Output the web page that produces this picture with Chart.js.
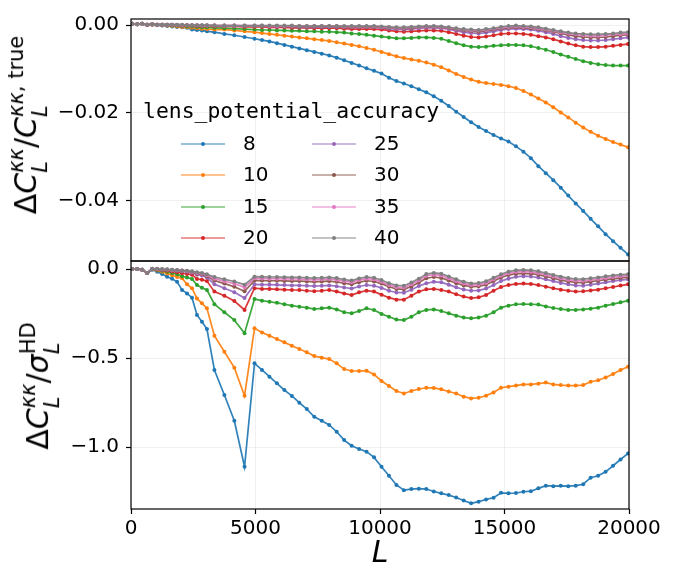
<!DOCTYPE html>
<html>
<head>
<meta charset="utf-8">
<script src="https://cdn.jsdelivr.net/npm/chart.js@4.4.1/dist/chart.umd.min.js"></script>
<style>
  html, body { margin: 0; padding: 0; background: #fff; }
  #wrap { position: relative; width: 680px; height: 572px; overflow: hidden; font-family: "DejaVu Sans"; color: #000; }
  #wrap canvas { position: absolute; left: 0; top: 0; }
  .ylab { position: absolute; white-space: nowrap; font-size: 30px; line-height: 1; transform: translate(-50%, -50%) rotate(-90deg); }
  .ss { display: inline-block; font-size: 0.7em; line-height: 1.14; vertical-align: -0.514em; text-align: left; }
  .ss > span { display: block; }
  .it { font-style: italic; }
  .lg { position: absolute; white-space: nowrap; line-height: 1; transform: translateY(-50%); }
</style>
</head>
<body>
<div id="wrap">
  <canvas id="top" width="680" height="572"></canvas>
  <canvas id="bottom" width="680" height="572"></canvas>
  <div class="ylab" style="left:29px; top:125px;">Δ<span class="it">C</span><span class="ss"><span class="it">κκ</span><span class="it">L</span></span>/<span class="it">C</span><span class="ss"><span><span class="it">κκ</span>, true</span><span class="it">L</span></span></div>
  <div class="ylab" style="left:41px; top:386px;">Δ<span class="it">C</span><span class="ss"><span class="it">κκ</span><span class="it">L</span></span>/<span class="it">σ</span><span class="ss"><span>HD</span><span class="it">L</span></span></div>
  <div id="legend"></div>
</div>
<script>
// multipole bins
const ells = [
  50, 250, 450, 650, 850, 1050, 1250, 1450, 1650, 1850,
  2050, 2250, 2450, 2650, 2850, 3050, 3350, 3750, 4150, 4560,
  4960, 5260, 5560, 5860, 6160, 6460, 6760, 7060, 7360, 7660,
  7960, 8260, 8560, 8860, 9160, 9460, 9760, 10060, 10360, 10660,
  10960, 11260, 11560, 11860, 12160, 12460, 12760, 13060, 13360, 13660,
  13960, 14260, 14560, 14860, 15160, 15460, 15760, 16060, 16360, 16660,
  16960, 17260, 17560, 17860, 18160, 18460, 18760, 19060, 19360, 19660,
  19960
];

const accuracy = ['8', '10', '15', '20', '25', '30', '35', '40'];
const colors = ['#1f77b4', '#ff7f0e', '#2ca02c', '#d62728', '#9467bd', '#8c564b', '#e377c2', '#7f7f7f'];

// fractional bias  dC/C_true
const frac8 = [
  0.0003, 0.0002, 0.0003, 0.0001, 0.0001, 0.0, -0.0001, -0.0002, -0.0003, -0.0004,
  -0.0005, -0.0006, -0.0010, -0.0011, -0.0012, -0.0014, -0.0016, -0.0020, -0.0023, -0.0027,
  -0.0031, -0.0034, -0.0037, -0.0041, -0.0045, -0.0049, -0.0053, -0.0057, -0.0061, -0.0065,
  -0.0069, -0.0074, -0.0080, -0.0086, -0.0092, -0.0098, -0.0104, -0.0110, -0.0120, -0.0127,
  -0.0133, -0.0139, -0.0146, -0.0153, -0.0162, -0.0172, -0.0184, -0.0197, -0.0209, -0.0221,
  -0.0232, -0.0241, -0.0250, -0.0258, -0.0265, -0.0276, -0.0288, -0.0303, -0.0321, -0.0337,
  -0.0353, -0.0370, -0.0388, -0.0406, -0.0423, -0.0441, -0.0458, -0.0476, -0.0492, -0.0507,
  -0.0522
];
const frac10 = [
  0.0003, 0.0002, 0.0003, 0.0001, 0.0001, 0.0001, 0.0, -0.0001, -0.0002, -0.0003,
  -0.0004, -0.0005, -0.0006, -0.0007, -0.0008, -0.0009, -0.0010, -0.0010, -0.0012, -0.0014,
  -0.0016, -0.0018, -0.0020, -0.0022, -0.0024, -0.0026, -0.0028, -0.0030, -0.0032, -0.0034,
  -0.0036, -0.0039, -0.0042, -0.0045, -0.0048, -0.0052, -0.0056, -0.0061, -0.0066, -0.0071,
  -0.0075, -0.0078, -0.0081, -0.0085, -0.0090, -0.0096, -0.0103, -0.0111, -0.0118, -0.0124,
  -0.0129, -0.0132, -0.0134, -0.0136, -0.0139, -0.0143, -0.0150, -0.0158, -0.0167, -0.0176,
  -0.0187, -0.0199, -0.0210, -0.0222, -0.0233, -0.0243, -0.0252, -0.0259, -0.0266, -0.0272,
  -0.0278
];
const frac15 = [
  0.0003, 0.0002, 0.0003, 0.0001, 0.0002, 0.0001, 0.0001, 0.0, -0.0001, -0.0001,
  -0.0002, -0.0003, -0.0003, -0.0004, -0.0005, -0.0005, -0.0006, -0.0007, -0.0008, -0.0009,
  -0.0010, -0.0011, -0.0011, -0.0012, -0.0012, -0.0013, -0.0013, -0.0014, -0.0014, -0.0015,
  -0.0015, -0.0016, -0.0017, -0.0019, -0.0020, -0.0022, -0.0024, -0.0026, -0.0028, -0.0030,
  -0.0030, -0.0029, -0.0028, -0.0028, -0.0029, -0.0031, -0.0036, -0.0041, -0.0046, -0.0049,
  -0.0050, -0.0049, -0.0047, -0.0046, -0.0045, -0.0045, -0.0046, -0.0048, -0.0052, -0.0056,
  -0.0061, -0.0067, -0.0072, -0.0077, -0.0082, -0.0086, -0.0089, -0.0091, -0.0092, -0.0092,
  -0.0092
];
const frac20 = [
  0.0003, 0.0002, 0.0003, 0.0001, 0.0002, 0.0001, 0.0001, 0.0001, 0.0, 0.0,
  -0.0001, -0.0001, -0.0001, -0.0002, -0.0002, -0.0002, -0.0003, -0.0003, -0.0003, -0.0004,
  -0.0004, -0.0004, -0.0005, -0.0005, -0.0005, -0.0006, -0.0006, -0.0006, -0.0007, -0.0007,
  -0.0007, -0.0007, -0.0008, -0.0009, -0.0009, -0.0009, -0.0009, -0.0010, -0.0012, -0.0014,
  -0.0015, -0.0014, -0.0013, -0.0012, -0.0012, -0.0013, -0.0016, -0.0020, -0.0024, -0.0027,
  -0.0028, -0.0026, -0.0023, -0.0020, -0.0019, -0.0019, -0.0020, -0.0022, -0.0025, -0.0028,
  -0.0032, -0.0037, -0.0042, -0.0046, -0.0049, -0.0050, -0.0050, -0.0049, -0.0047, -0.0045,
  -0.0043
];
const frac25 = [
  0.0003, 0.0002, 0.0003, 0.0001, 0.0002, 0.0001, 0.0001, 0.0001, 0.0001, 0.0,
  0.0, 0.0, -0.0001, -0.0001, -0.0001, -0.0001, -0.0001, -0.0002, -0.0002, -0.0002,
  -0.0002, -0.0002, -0.0003, -0.0003, -0.0003, -0.0003, -0.0004, -0.0004, -0.0004, -0.0004,
  -0.0004, -0.0004, -0.0005, -0.0005, -0.0005, -0.0005, -0.0005, -0.0006, -0.0008, -0.0009,
  -0.0010, -0.0009, -0.0007, -0.0006, -0.0006, -0.0007, -0.0009, -0.0013, -0.0016, -0.0018,
  -0.0019, -0.0017, -0.0014, -0.0011, -0.0009, -0.0008, -0.0009, -0.0010, -0.0013, -0.0016,
  -0.0020, -0.0025, -0.0029, -0.0032, -0.0034, -0.0035, -0.0035, -0.0034, -0.0032, -0.0030,
  -0.0028
];
const frac30 = [
  0.0003, 0.0002, 0.0003, 0.0001, 0.0002, 0.0001, 0.0001, 0.0001, 0.0001, 0.0,
  0.0, 0.0, 0.0, -0.0001, -0.0001, -0.0001, -0.0001, -0.0001, -0.0001, -0.0002,
  -0.0002, -0.0002, -0.0002, -0.0002, -0.0003, -0.0003, -0.0003, -0.0003, -0.0003, -0.0003,
  -0.0003, -0.0003, -0.0004, -0.0004, -0.0004, -0.0004, -0.0004, -0.0005, -0.0006, -0.0007,
  -0.0008, -0.0007, -0.0005, -0.0004, -0.0004, -0.0005, -0.0007, -0.0010, -0.0012, -0.0014,
  -0.0015, -0.0013, -0.0010, -0.0008, -0.0006, -0.0005, -0.0006, -0.0007, -0.0009, -0.0012,
  -0.0015, -0.0019, -0.0022, -0.0025, -0.0027, -0.0028, -0.0028, -0.0027, -0.0025, -0.0023,
  -0.0022
];
const frac35 = [
  0.0003, 0.0002, 0.0003, 0.0001, 0.0002, 0.0001, 0.0001, 0.0001, 0.0001, 0.0001,
  0.0, 0.0, 0.0, 0.0, -0.0001, -0.0001, -0.0001, -0.0001, -0.0001, -0.0001,
  -0.0001, -0.0001, -0.0002, -0.0002, -0.0002, -0.0002, -0.0002, -0.0002, -0.0002, -0.0002,
  -0.0002, -0.0002, -0.0003, -0.0003, -0.0003, -0.0003, -0.0003, -0.0004, -0.0005, -0.0006,
  -0.0006, -0.0005, -0.0004, -0.0003, -0.0003, -0.0004, -0.0006, -0.0008, -0.0010, -0.0012,
  -0.0012, -0.0011, -0.0008, -0.0006, -0.0004, -0.0003, -0.0004, -0.0005, -0.0007, -0.0010,
  -0.0013, -0.0016, -0.0019, -0.0021, -0.0023, -0.0024, -0.0024, -0.0023, -0.0021, -0.0020,
  -0.0019
];
const frac40 = [
  0.0003, 0.0002, 0.0003, 0.0001, 0.0002, 0.0001, 0.0001, 0.0001, 0.0001, 0.0001,
  0.0001, 0.0, 0.0, 0.0, 0.0, 0.0, -0.0001, -0.0001, -0.0001, -0.0001,
  -0.0001, -0.0001, -0.0001, -0.0001, -0.0001, -0.0001, -0.0002, -0.0002, -0.0002, -0.0002,
  -0.0002, -0.0002, -0.0002, -0.0002, -0.0002, -0.0002, -0.0002, -0.0003, -0.0004, -0.0005,
  -0.0005, -0.0004, -0.0003, -0.0002, -0.0002, -0.0003, -0.0005, -0.0007, -0.0009, -0.0010,
  -0.0011, -0.0009, -0.0007, -0.0004, -0.0002, -0.0001, -0.0002, -0.0003, -0.0005, -0.0008,
  -0.0011, -0.0014, -0.0017, -0.0019, -0.0020, -0.0021, -0.0021, -0.0020, -0.0019, -0.0017,
  -0.0016
];

// bias in units of the HD error bar
const sig8 = [
  0.0, 0.0, -0.004, -0.022, -0.004, -0.015, -0.028, -0.043, -0.055, -0.072,
  -0.118, -0.137, -0.161, -0.258, -0.296, -0.337, -0.567, -0.708, -0.852, -1.111,
  -0.530, -0.567, -0.605, -0.642, -0.680, -0.713, -0.751, -0.787, -0.830, -0.852,
  -0.876, -0.914, -0.961, -0.993, -1.011, -1.026, -1.058, -1.111, -1.161, -1.213,
  -1.242, -1.236, -1.234, -1.236, -1.250, -1.260, -1.270, -1.283, -1.300, -1.316,
  -1.307, -1.294, -1.285, -1.257, -1.260, -1.258, -1.251, -1.248, -1.232, -1.217,
  -1.220, -1.218, -1.220, -1.217, -1.209, -1.172, -1.161, -1.139, -1.105, -1.070,
  -1.036
];
const sig10 = [
  0.0, 0.0, -0.004, -0.022, -0.002, -0.008, -0.016, -0.025, -0.035, -0.045,
  -0.052, -0.086, -0.108, -0.165, -0.193, -0.221, -0.375, -0.465, -0.554, -0.712,
  -0.333, -0.356, -0.375, -0.393, -0.412, -0.431, -0.449, -0.468, -0.489, -0.498,
  -0.506, -0.530, -0.562, -0.573, -0.573, -0.571, -0.592, -0.629, -0.657, -0.685,
  -0.699, -0.685, -0.674, -0.667, -0.668, -0.676, -0.688, -0.699, -0.717, -0.727,
  -0.723, -0.712, -0.693, -0.667, -0.661, -0.655, -0.648, -0.648, -0.644, -0.638,
  -0.648, -0.652, -0.655, -0.655, -0.652, -0.633, -0.625, -0.609, -0.590, -0.567,
  -0.549
];
const sig15 = [
  0.0, 0.0, -0.004, -0.022, -0.001, -0.005, -0.010, -0.016, -0.022, -0.030,
  -0.040, -0.048, -0.056, -0.090, -0.105, -0.118, -0.198, -0.243, -0.287, -0.361,
  -0.169, -0.178, -0.184, -0.190, -0.198, -0.206, -0.212, -0.217, -0.225, -0.221,
  -0.217, -0.227, -0.243, -0.249, -0.236, -0.221, -0.230, -0.252, -0.268, -0.284,
  -0.287, -0.268, -0.243, -0.230, -0.227, -0.236, -0.249, -0.262, -0.273, -0.277,
  -0.273, -0.262, -0.243, -0.217, -0.206, -0.198, -0.197, -0.198, -0.200, -0.210,
  -0.219, -0.225, -0.230, -0.230, -0.227, -0.223, -0.217, -0.206, -0.197, -0.187,
  -0.178
];
const sig20 = [
  0.0, 0.0, -0.004, -0.022, 0.0, -0.003, -0.006, -0.010, -0.014, -0.018,
  -0.024, -0.028, -0.032, -0.056, -0.060, -0.068, -0.127, -0.150, -0.180, -0.230,
  -0.108, -0.112, -0.112, -0.114, -0.116, -0.118, -0.118, -0.122, -0.125, -0.122,
  -0.118, -0.127, -0.137, -0.146, -0.131, -0.122, -0.127, -0.144, -0.161, -0.172,
  -0.172, -0.150, -0.127, -0.114, -0.112, -0.118, -0.127, -0.142, -0.155, -0.163,
  -0.159, -0.146, -0.122, -0.101, -0.090, -0.084, -0.082, -0.084, -0.090, -0.099,
  -0.108, -0.116, -0.122, -0.127, -0.125, -0.120, -0.116, -0.108, -0.101, -0.093,
  -0.086
];
const sig25 = [
  0.0, 0.0, -0.004, -0.022, 0.0, -0.002, -0.004, -0.006, -0.008, -0.010,
  -0.013, -0.016, -0.021, -0.032, -0.036, -0.048, -0.085, -0.108, -0.130, -0.163,
  -0.086, -0.088, -0.088, -0.089, -0.090, -0.092, -0.092, -0.094, -0.096, -0.094,
  -0.092, -0.097, -0.104, -0.110, -0.098, -0.090, -0.094, -0.106, -0.122, -0.132,
  -0.133, -0.116, -0.096, -0.080, -0.072, -0.075, -0.088, -0.103, -0.115, -0.122,
  -0.120, -0.110, -0.090, -0.068, -0.054, -0.044, -0.040, -0.042, -0.048, -0.058,
  -0.068, -0.078, -0.086, -0.092, -0.094, -0.088, -0.082, -0.075, -0.068, -0.062,
  -0.058
];
const sig30 = [
  0.0, 0.0, -0.004, -0.022, 0.0, -0.001, -0.003, -0.005, -0.006, -0.008,
  -0.010, -0.013, -0.018, -0.026, -0.030, -0.040, -0.065, -0.082, -0.100, -0.125,
  -0.064, -0.065, -0.066, -0.066, -0.067, -0.068, -0.068, -0.070, -0.072, -0.070,
  -0.068, -0.072, -0.080, -0.086, -0.074, -0.066, -0.070, -0.082, -0.100, -0.112,
  -0.114, -0.098, -0.076, -0.052, -0.045, -0.050, -0.064, -0.080, -0.092, -0.099,
  -0.097, -0.088, -0.068, -0.048, -0.034, -0.026, -0.024, -0.026, -0.032, -0.042,
  -0.052, -0.062, -0.070, -0.075, -0.076, -0.071, -0.066, -0.060, -0.055, -0.050,
  -0.047
];
const sig35 = [
  0.0, 0.0, -0.004, -0.022, 0.001, 0.0, -0.002, -0.003, -0.005, -0.007,
  -0.009, -0.011, -0.016, -0.022, -0.026, -0.035, -0.054, -0.069, -0.083, -0.103,
  -0.052, -0.053, -0.054, -0.054, -0.055, -0.056, -0.056, -0.058, -0.060, -0.058,
  -0.056, -0.060, -0.068, -0.074, -0.062, -0.054, -0.058, -0.072, -0.090, -0.102,
  -0.104, -0.086, -0.064, -0.038, -0.032, -0.036, -0.052, -0.068, -0.082, -0.090,
  -0.088, -0.078, -0.058, -0.038, -0.024, -0.016, -0.014, -0.016, -0.022, -0.032,
  -0.042, -0.052, -0.060, -0.065, -0.066, -0.061, -0.056, -0.050, -0.045, -0.040,
  -0.037
];
const sig40 = [
  0.0, 0.0, -0.004, -0.022, 0.002, 0.001, 0.0, -0.002, -0.004, -0.006,
  -0.008, -0.010, -0.013, -0.018, -0.022, -0.030, -0.045, -0.058, -0.070, -0.088,
  -0.043, -0.044, -0.045, -0.045, -0.046, -0.047, -0.047, -0.049, -0.051, -0.049,
  -0.047, -0.051, -0.059, -0.065, -0.053, -0.045, -0.049, -0.062, -0.080, -0.092,
  -0.094, -0.076, -0.054, -0.028, -0.022, -0.026, -0.042, -0.058, -0.072, -0.081,
  -0.079, -0.069, -0.049, -0.029, -0.015, -0.007, -0.005, -0.007, -0.013, -0.023,
  -0.033, -0.043, -0.051, -0.056, -0.057, -0.052, -0.047, -0.041, -0.036, -0.032,
  -0.030
];

const xTicks = [0, 5000, 10000, 15000, 20000];
const fracTicks = [0, -0.02, -0.04];
const sigTicks = [0, -0.5, -1.0];

Chart.defaults.font.family = 'DejaVu Sans';
Chart.defaults.color = '#000';

const gridColor = 'rgba(0,0,0,0.06)';
const tickFont = { family: 'DejaVu Sans', size: 20 };

function fmt(v, digits) {
  const s = Math.abs(v).toFixed(digits);
  return v < 0 ? '\u2212' + s : s;
}

function hexA(hex, a) {
  const n = parseInt(hex.slice(1), 16);
  return `rgba(${n >> 16},${(n >> 8) & 255},${n & 255},${a})`;
}

function makeDatasets(series) {
  return series.map((vals, i) => ({
    label: accuracy[i],
    data: ells.map((l, j) => ({ x: l, y: vals[j] })),
    borderColor: hexA(colors[i], 0.92),
    backgroundColor: colors[i],
    pointBackgroundColor: colors[i],
    borderWidth: 1.7,
    pointRadius: 2,
    pointBorderWidth: 0,
    pointHoverRadius: 0,
    tension: 0,
    order: series.length - 1 - i   // later curves are painted over earlier ones
  }));
}

// black box around the plotting area
const framePlugin = {
  id: 'frame',
  afterDraw(chart) {
    const { ctx, chartArea: a } = chart;
    ctx.save();
    ctx.strokeStyle = '#000';
    ctx.lineWidth = 1.2;
    ctx.strokeRect(a.left, a.top, a.right - a.left, a.bottom - a.top);
    ctx.restore();
  }
};

function yAxis(min, max, ticks, digits) {
  return {
    type: 'linear',
    min: min,
    max: max,
    afterBuildTicks: s => { s.ticks = ticks.map(v => ({ value: v })); },
    afterFit: s => { s.width = 131; },
    ticks: { font: tickFont, color: '#000', padding: 7, callback: v => fmt(v, digits) },
    grid: { color: gridColor, lineWidth: 1, tickColor: '#000', tickLength: 5, tickWidth: 1.2 },
    border: { display: false }
  };
}

const common = {
  responsive: false,
  animation: false,
  devicePixelRatio: 1,
  events: [],
  plugins: { legend: { display: false }, tooltip: { enabled: false } }
};

new Chart(document.getElementById('top'), {
  type: 'line',
  data: { datasets: makeDatasets([frac8, frac10, frac15, frac20, frac25, frac30, frac35, frac40]) },
  options: Object.assign({}, common, {
    layout: { padding: { left: 0, top: 13, right: 51, bottom: 311 } },
    scales: {
      x: {
        type: 'linear', min: 0, max: 20000,
        afterBuildTicks: s => { s.ticks = xTicks.map(v => ({ value: v })); },
        afterFit: s => { s.height = 0; },
        ticks: { display: false },
        grid: { color: gridColor, drawTicks: false },
        border: { display: false }
      },
      y: yAxis(-0.0537, 0.0014, fracTicks, 2)
    }
  }),
  plugins: [framePlugin]
});

new Chart(document.getElementById('bottom'), {
  type: 'line',
  data: { datasets: makeDatasets([sig8, sig10, sig15, sig20, sig25, sig30, sig35, sig40]) },
  options: Object.assign({}, common, {
    layout: { padding: { left: 0, top: 261, right: 51, bottom: 0 } },
    scales: {
      x: {
        type: 'linear', min: 0, max: 20000,
        afterBuildTicks: s => { s.ticks = xTicks.map(v => ({ value: v })); },
        afterFit: s => { s.height = 63; },
        ticks: { font: tickFont, color: '#000', padding: 3, maxRotation: 0, autoSkip: false, callback: v => String(v) },
        grid: { color: gridColor, lineWidth: 1, tickColor: '#000', tickLength: 5, tickWidth: 1.2 },
        border: { display: false },
        title: { display: true, text: 'L', font: { family: 'DejaVu Sans', size: 30, style: 'italic' }, color: '#000', padding: { top: 0, bottom: 0 } }
      },
      y: yAxis(-1.348, 0.045, sigTicks, 1)
    }
  }),
  plugins: [framePlugin]
});

// legend: titled, two columns filled top to bottom
(function buildLegend() {
  const box = document.getElementById('legend');
  const title = document.createElement('div');
  title.className = 'lg';
  title.style.cssText = 'left:143px; top:111px; font-family:"DejaVu Sans Mono"; font-size:21.4px;';
  title.textContent = 'lens_potential_accuracy';
  box.appendChild(title);
  accuracy.forEach((name, i) => {
    const col = Math.floor(i / 4), row = i % 4;
    const x0 = 181 + col * 131;
    const y0 = 144 + row * 31.3;
    const line = document.createElement('div');
    line.className = 'lg';
    line.style.cssText = `left:${x0}px; top:${y0}px; width:44px; height:0; border-top:1.7px solid ${hexA(colors[i], 0.92)};`;
    box.appendChild(line);
    const dot = document.createElement('div');
    dot.className = 'lg';
    dot.style.cssText = `left:${x0 + 20}px; top:${y0}px; width:4px; height:4px; border-radius:50%; background:${colors[i]};`;
    box.appendChild(dot);
    const lab = document.createElement('div');
    lab.className = 'lg';
    lab.style.cssText = `left:${x0 + 62}px; top:${y0 - 1}px; font-size:20px;`;
    lab.textContent = name;
    box.appendChild(lab);
  });
})();
</script>
</body>
</html>
